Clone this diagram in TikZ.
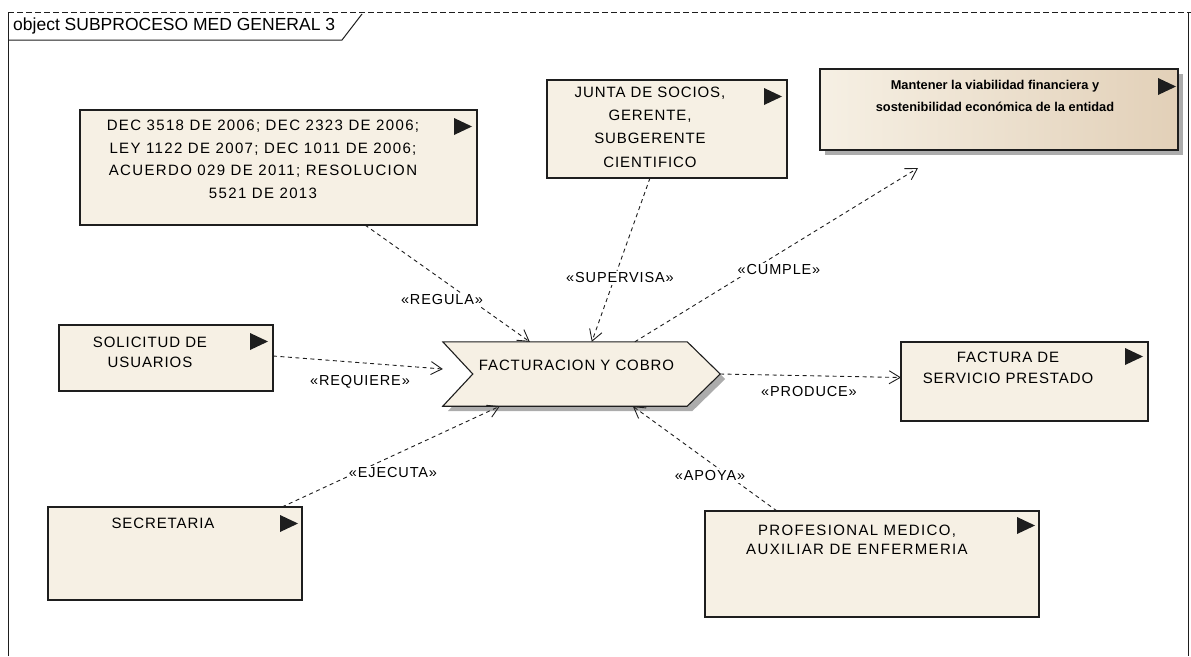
\documentclass[tikz,border=0pt]{standalone}
\usepackage{fontspec}
\setmainfont{Liberation Sans}
\newfontfamily\eafont[LetterSpace=6]{Liberation Sans}
\newfontfamily\eawide[LetterSpace=9]{Liberation Sans}
\newfontfamily\eatitle{Liberation Sans}
\usetikzlibrary{arrows.meta,calc,shadows}

\definecolor{eafill}{RGB}{246,240,228}
\definecolor{eatan}{RGB}{226,208,184}
\definecolor{eashadow}{RGB}{172,172,172}
\definecolor{ealine}{RGB}{30,30,30}

\tikzset{
  objbox/.style={draw=ealine, line width=1.1pt, fill=eafill, inner sep=0pt, outer sep=0pt},
  objtext/.style={font=\eafont\fontsize{15}{#1}\selectfont, align=center, inner sep=0pt, anchor=north},
  objtext/.default=21,
  stereo/.style={font=\eafont\fontsize{14.5}{16}\selectfont, fill=white, inner sep=1.5pt},
  rel/.style={draw=ealine, line width=0.9pt, dash pattern=on 4pt off 3.5pt,
    -{Straight Barb[length=11pt,width=13pt,line width=0.9pt]}},
  eaflag/.pic={\fill[ealine] (-18pt,0pt) -- (0pt,-8.5pt) -- (-18pt,-17pt) -- cycle;}
}

\begin{document}
\begin{tikzpicture}[x=1pt,y=-1pt]
\useasboundingbox (0,0) rectangle (1191,656);

% diagram frame and its name tab
\draw[ealine, line width=1pt] (8,656) -- (8,12);
\draw[ealine, line width=1pt, dash pattern=on 6pt off 3pt] (8,12) -- (1191,12);
\draw[ealine, line width=1pt] (1188,12) -- (1188,656);
\draw[ealine, line width=1pt] (8,40) -- (342,40) -- (362,14);
\node[font=\eatitle\fontsize{17.5}{19}\selectfont, anchor=west, inner sep=0pt] (title) at (13,26) {object SUBPROCESO MED GENERAL 3};

% objects
\node[objbox, minimum width=397pt, minimum height=115pt] (dec) at (278.5,167.5) {};
\node[objtext=22.5, font=\eawide\fontsize{15}{22.5}\selectfont] (dectxt) at (263,120) {DEC 3518 DE 2006; DEC 2323 DE 2006;\\LEY 1122 DE 2007; DEC 1011 DE 2006;\\ACUERDO 029 DE 2011; RESOLUCION\\5521 DE 2013};
\pic at ([xshift=-5pt,yshift=-8pt]dec.north east) {eaflag};

\node[objbox, minimum width=240pt, minimum height=98pt] (junta) at (667,129) {};
\node[objtext=23.3] (juntatxt) at (650,86.5) {JUNTA DE SOCIOS,\\GERENTE,\\SUBGERENTE\\CIENTIFICO};
\pic at ([xshift=-5pt,yshift=-8pt]junta.north east) {eaflag};

\node[objbox, minimum width=358pt, minimum height=81pt, left color=eafill, right color=eatan,
      drop shadow={shadow xshift=5pt, shadow yshift=-5pt, fill=eashadow, opacity=1}] (mant) at (999,109.5) {};
\node[font=\eatitle\bfseries\fontsize{12.8}{22}\selectfont, align=center, inner sep=0pt, anchor=north] (manttxt) at (995,80) {Mantener la viabilidad financiera y\\sostenibilidad económica de la entidad};
\pic at ([xshift=-2pt,yshift=-9pt]mant.north east) {eaflag};

\node[objbox, minimum width=214pt, minimum height=66pt] (sol) at (166,358) {};
\node[objtext=20.5] (soltxt) at (150,336.5) {SOLICITUD DE\\USUARIOS};
\pic at ([xshift=-5pt,yshift=-8pt]sol.north east) {eaflag};

% process chevron with its shadow
\node[inner sep=0pt, minimum width=277pt, minimum height=64pt] (fact) at (581.5,374) {};
\fill[eashadow] ([xshift=5pt,yshift=-5pt]fact.north west) -- ([xshift=-28pt,yshift=-5pt]fact.north east)
  -- ([xshift=5pt,yshift=-5pt]fact.east) -- ([xshift=-28pt,yshift=-5pt]fact.south east)
  -- ([xshift=5pt,yshift=-5pt]fact.south west) -- ([xshift=35pt,yshift=-5pt]fact.west) -- cycle;
\draw[ealine, line width=1.1pt, fill=eafill] (fact.north west) -- ([xshift=-33pt]fact.north east)
  -- (fact.east) -- ([xshift=-33pt]fact.south east) -- (fact.south west)
  -- ([xshift=30pt]fact.west) -- cycle;
\node[objtext] (facttxt) at (576.5,359.5) {FACTURACION Y COBRO};

\node[objbox, minimum width=247pt, minimum height=79pt] (factura) at (1024.5,381.5) {};
\node[objtext=21.5] (facturatxt) at (1008,351.5) {FACTURA DE\\SERVICIO PRESTADO};
\pic at ([xshift=-5pt,yshift=-6pt]factura.north east) {eaflag};

\node[objbox, minimum width=254pt, minimum height=93pt] (sec) at (175,553.5) {};
\node[objtext] (sectxt) at (163,517.5) {SECRETARIA};
\pic at ([xshift=-4pt,yshift=-8pt]sec.north east) {eaflag};

\node[objbox, minimum width=334pt, minimum height=106pt] (prof) at (872,564) {};
\node[objtext=19, font=\eawide\fontsize{15}{19}\selectfont] (proftxt) at (857,524.5) {PROFESIONAL MEDICO,\\AUXILIAR DE ENFERMERIA};
\pic at ([xshift=-4pt,yshift=-6pt]prof.north east) {eaflag};

% dependencies
\coordinate (cumpleEnd) at (918,168);
\draw[rel] ([xshift=285pt]dec.south west) -- ([xshift=87pt]fact.north west);
\draw[rel] ([xshift=103pt]junta.south west) -- ([xshift=149pt]fact.north west);
\draw[rel] ([xshift=192pt]fact.north west) -- (cumpleEnd);
\draw[rel] ([yshift=2pt]sol.east) -- ([yshift=5pt]fact.west);
\draw[rel] (fact.east) -- ([yshift=4pt]factura.west);
\draw[rel] ([xshift=-20pt]sec.north east) -- ([xshift=57pt]fact.south west);
\draw[rel] ([xshift=72pt]prof.north west) -- ([xshift=190pt]fact.south west);

% stereotype labels
\node[stereo] (lregula) at (442,300) {«REGULA»};
\node[stereo] (lsupervisa) at (620,278) {«SUPERVISA»};
\node[stereo] (lcumple) at (779,270) {«CUMPLE»};
\node[stereo] (lrequiere) at (360,382) {«REQUIERE»};
\node[stereo] (lproduce) at (809,392) {«PRODUCE»};
\node[stereo] (lejecuta) at (393,473) {«EJECUTA»};
\node[stereo] (lapoya) at (710,476) {«APOYA»};
\end{tikzpicture}
\end{document}
